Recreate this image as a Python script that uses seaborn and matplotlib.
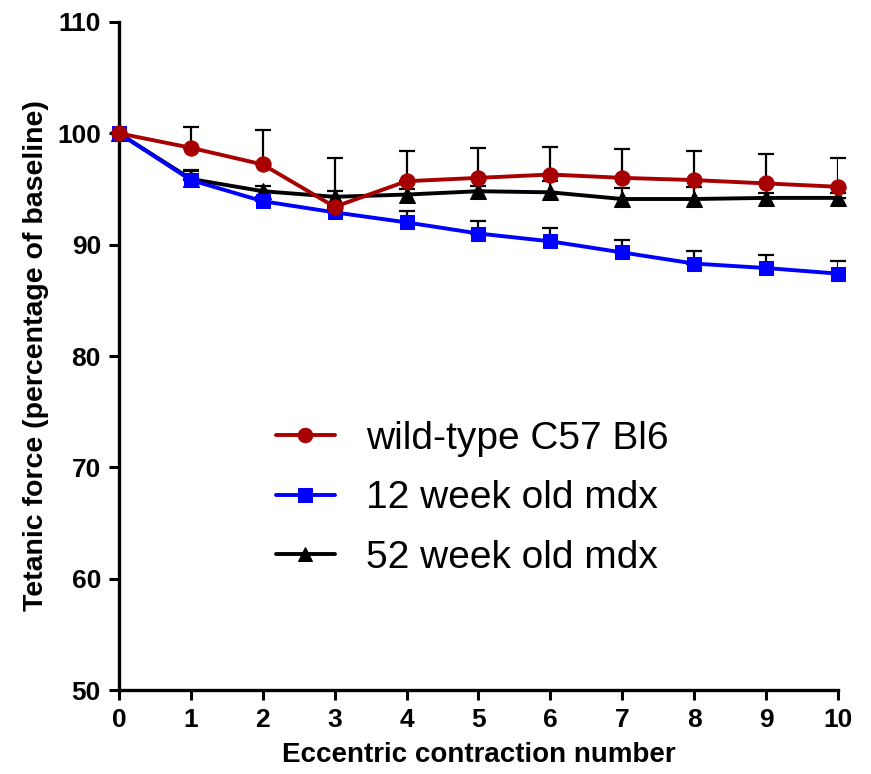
import matplotlib
matplotlib.use('Agg')
import matplotlib.pyplot as plt
import seaborn as sns
import pandas as pd

sns.set_style('ticks')
plt.rcParams['font.family'] = ['Liberation Sans', 'DejaVu Sans']
for k in ['text.color', 'axes.labelcolor', 'xtick.color', 'ytick.color', 'axes.edgecolor']:
    plt.rcParams[k] = 'black'

# data
contraction = [0, 1, 2, 3, 4, 5, 6, 7, 8, 9, 10]
yticks = [50, 60, 70, 80, 90, 100, 110]
labels = ['wild-type C57 Bl6', '12 week old mdx', '52 week old mdx']
wt_mean = [100, 98.7, 97.2, 93.4, 95.7, 96.0, 96.3, 96.0, 95.8, 95.5, 95.2]
wt_err = [0, 1.9, 3.1, 4.4, 2.7, 2.7, 2.5, 2.6, 2.6, 2.6, 2.6]
w12_mean = [100, 95.8, 93.9, 92.9, 92.0, 91.0, 90.3, 89.3, 88.3, 87.9, 87.4]
w12_err = [0, 0.8, 0.4, 0.3, 1.0, 1.1, 1.2, 1.1, 1.1, 1.2, 1.1]
w52_mean = [100, 95.9, 94.8, 94.3, 94.5, 94.8, 94.7, 94.1, 94.1, 94.2, 94.2]
w52_err = [0, 0.8, 0.5, 0.5, 0.5, 0.5, 1.0, 1.0, 1.1, 0.4, 0.4]

colors = ['#A80000', '#0000FF', '#000000']
markers = ['o', 's', '^']
sizes = [11, 10, 11]
zorders = [5, 4, 3]

fig = plt.figure(figsize=(8.71, 7.74), dpi=100)
ax = fig.add_axes([0.1366, 0.1085, 0.8255, 0.8631])

series = [(wt_mean, wt_err), (w12_mean, w12_err), (w52_mean, w52_err)]
for (m, e), lab, c, mk, ms, z in zip(series, labels, colors, markers, sizes, zorders):
    df = pd.DataFrame({'x': contraction, 'y': m})
    # upward-only error bars, drawn behind the lines
    ax.errorbar(contraction, m, yerr=[[0] * len(e), e], fmt='none', ecolor='black',
                elinewidth=1.6, capsize=6, capthick=1.6, zorder=1)
    sns.lineplot(data=df, x='x', y='y', ax=ax, color=c, marker=mk, markersize=ms,
                 markeredgecolor=c, linewidth=2.8, label=lab, zorder=z)

sns.despine(ax=ax)
ax.set_xlim(0, 10)
ax.set_ylim(50, 110)
ax.set_xticks(contraction, [str(v) for v in contraction], fontweight='bold')
ax.set_yticks(yticks, [str(v) for v in yticks], fontweight='bold')
ax.tick_params(axis='both', width=2.2, length=7, labelsize=19, pad=6)
for side in ['left', 'bottom']:
    ax.spines[side].set_linewidth(2.4)
ax.set_xlabel('Eccentric contraction number', fontsize=20, fontweight='bold', labelpad=7)
ax.set_ylabel('Tetanic force (percentage of baseline)', fontsize=20.5, fontweight='bold', labelpad=6)

for l in ax.lines:
    l.set_clip_on(False)

leg = ax.legend(loc='upper left', bbox_to_anchor=(0.17, 0.455), frameon=False, fontsize=28,
                handlelength=1.5, handletextpad=0.8, labelspacing=0.6, markerscale=0.95)

fig.savefig('out.png', dpi=100)
